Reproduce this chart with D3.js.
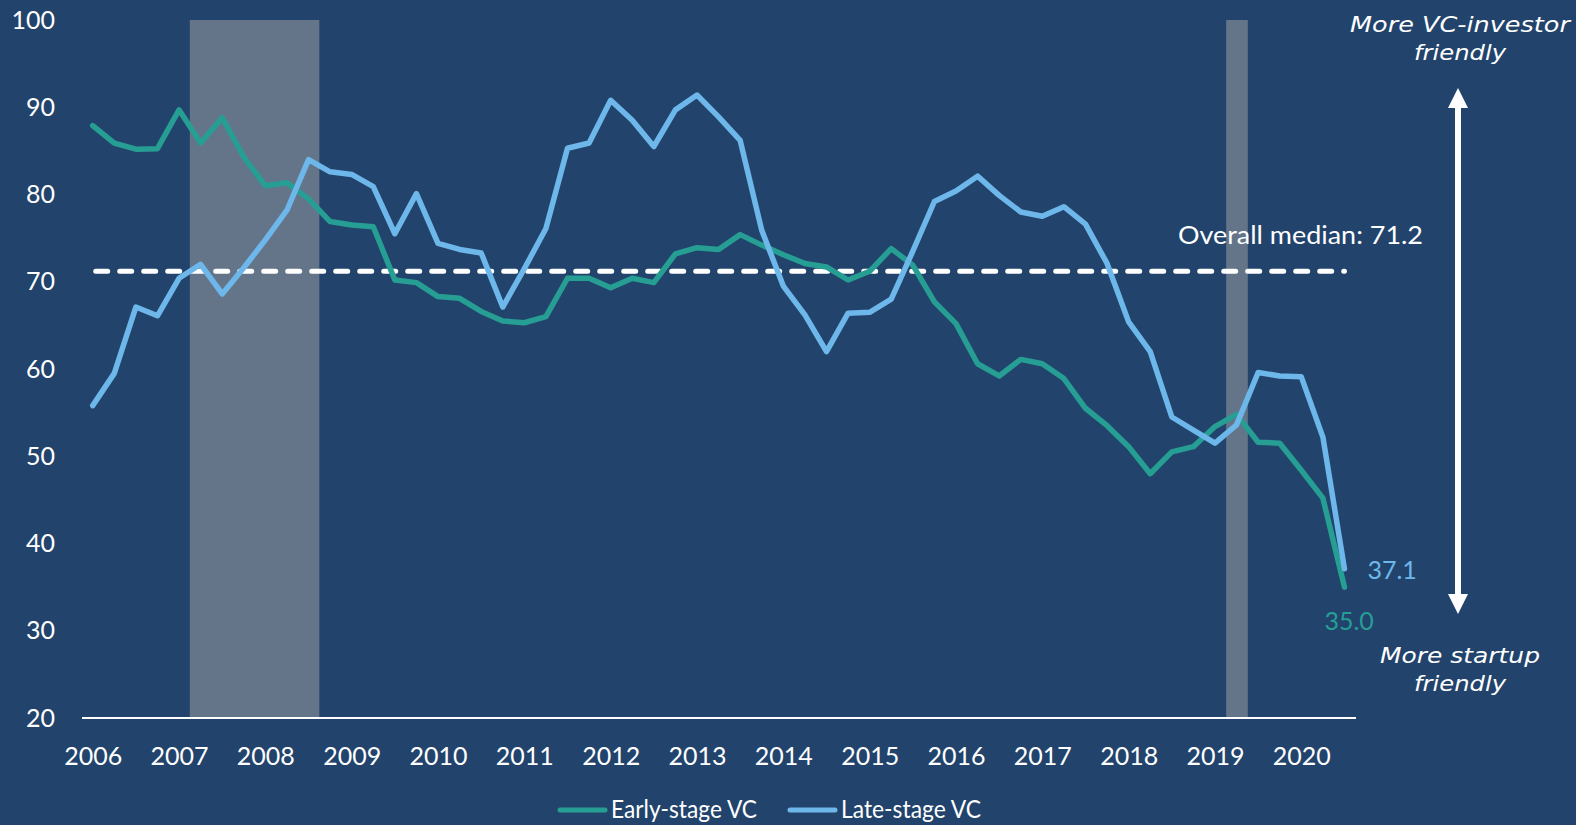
<!DOCTYPE html>
<html>
<head>
<meta charset="utf-8">
<script src="https://cdn.jsdelivr.net/npm/d3@7"></script>
<style>
  html, body { margin: 0; padding: 0; background: #22446C; }
  svg { display: block; }
</style>
</head>
<body>
<svg id="chart" width="1576" height="825"></svg>
<script>
// ---- Data (quarterly, 2006 Q1 .. 2020 Q3) ----
const startYear = 2006;
const early = [87.9, 85.9, 85.2, 85.25, 89.7, 85.9, 88.8, 84.3,
               81.0, 81.35, 79.5, 76.9, 76.5, 76.3, 70.2, 69.9,
               68.3, 68.1, 66.6, 65.5, 65.3, 66.0, 70.4, 70.4,
               69.3, 70.4, 69.9, 73.2, 73.9, 73.7, 75.4, 74.2,
               73.1, 72.1, 71.7, 70.2, 71.2, 73.8, 71.9, 67.7,
               65.2, 60.6, 59.2, 61.1, 60.6, 58.9, 55.5, 53.5,
               51.1, 48.0, 50.5, 51.1, 53.4, 54.8, 51.6, 51.5,
               48.4, 45.2, 35.0];
const late  = [55.8, 59.5, 67.1, 66.1, 70.4, 72.0, 68.6, 71.6,
               74.8, 78.2, 84.0, 82.6, 82.3, 80.9, 75.5, 80.1,
               74.4, 73.7, 73.3, 67.1, 71.5, 76.1, 85.3, 85.9,
               90.8, 88.5, 85.5, 89.7, 91.4, 88.9, 86.2, 75.9,
               69.5, 66.2, 62.0, 66.4, 66.5, 68.0, 73.5, 79.2,
               80.4, 82.1, 79.9, 78.0, 77.5, 78.6, 76.6, 72.1,
               65.4, 62.0, 54.5, 53.0, 51.5, 53.6, 59.6, 59.2,
               59.1, 52.2, 37.1];
const yearTicks = [2006, 2007, 2008, 2009, 2010, 2011, 2012, 2013,
                   2014, 2015, 2016, 2017, 2018, 2019, 2020];
const yTicks = [20, 30, 40, 50, 60, 70, 80, 90, 100];
const recessions = [[2007.125, 2008.625], [2019.13, 2019.38]];
const median = 71.2;
const seriesNames = ["Early-stage VC", "Late-stage VC"];

// ---- Styles ----
const BG = "#22446C";
const TEAL = "#269E94";
const BLUE = "#6DB7EA";
const BAND = "#64758A";
const FONT = "Lato, 'Open Sans', sans-serif";

const svg = d3.select("#chart");
svg.append("rect").attr("width", 1576).attr("height", 825).attr("fill", BG);

const x = d3.scaleLinear().domain([2006, 2020]).range([92.7, 1301.3]);
const y = d3.scaleLinear().domain([20, 100]).range([718, 20]);

// recession bands
svg.append("g").selectAll("rect").data(recessions).join("rect")
  .attr("x", d => x(d[0]))
  .attr("width", d => x(d[1]) - x(d[0]))
  .attr("y", y(100))
  .attr("height", y(20) - y(100))
  .attr("fill", BAND);

// y axis labels
const yAxis = d3.axisLeft(y).tickValues(yTicks).tickSize(0).tickPadding(0);
const gy = svg.append("g").attr("transform", "translate(55,0)").call(yAxis);
gy.select(".domain").remove();
gy.selectAll("text").attr("fill", "#ffffff").style("font-family", FONT)
  .style("font-size", "25px");

// x axis
const xAxis = d3.axisBottom(x).tickValues(yearTicks).tickFormat(d3.format("d"))
  .tickSize(0).tickPadding(29);
const gx = svg.append("g").attr("transform", `translate(0,${y(20)})`).call(xAxis);
gx.select(".domain").remove();
gx.selectAll("text").attr("fill", "#ffffff").style("font-family", FONT)
  .style("font-size", "25px");
svg.append("line")
  .attr("x1", 82).attr("x2", 1356).attr("y1", y(20)).attr("y2", y(20))
  .attr("stroke", "#ffffff").attr("stroke-width", 2);

// median line
svg.append("line")
  .attr("x1", x(2006) + 3).attr("x2", x(2020.5))
  .attr("y1", y(median)).attr("y2", y(median))
  .attr("stroke", "#ffffff").attr("stroke-width", 5)
  .attr("stroke-linecap", "round")
  .attr("stroke-dasharray", "12,12");
svg.append("text")
  .attr("x", 1423).attr("y", 244)
  .attr("text-anchor", "end")
  .attr("textLength", 245).attr("lengthAdjust", "spacingAndGlyphs")
  .attr("fill", "#ffffff").style("font-family", FONT).style("font-size", "25px")
  .text("Overall median: " + median.toFixed(1));

// series lines
const line = d3.line()
  .x((d, i) => x(startYear + i / 4))
  .y(d => y(d));
svg.append("path").datum(early)
  .attr("d", line).attr("fill", "none").attr("stroke", TEAL)
  .attr("stroke-width", 5.5).attr("stroke-linejoin", "round").attr("stroke-linecap", "round");
svg.append("path").datum(late)
  .attr("d", line).attr("fill", "none").attr("stroke", BLUE)
  .attr("stroke-width", 5.5).attr("stroke-linejoin", "round").attr("stroke-linecap", "round");

// end labels
const lastIdx = early.length - 1;
svg.append("text")
  .attr("x", x(startYear + lastIdx / 4) + 23).attr("y", 579)
  .attr("fill", BLUE).style("font-family", FONT).style("font-size", "25px")
  .text(late[lastIdx].toFixed(1));
svg.append("text")
  .attr("x", x(startYear + lastIdx / 4) - 20).attr("y", 630)
  .attr("fill", TEAL).style("font-family", FONT).style("font-size", "25px")
  .text(early[lastIdx].toFixed(1));

// double arrow
const ax = 1458;
svg.append("line").attr("x1", ax).attr("x2", ax).attr("y1", 104).attr("y2", 598)
  .attr("stroke", "#ffffff").attr("stroke-width", 6);
svg.append("path").attr("d", `M${ax},88 L${ax + 10},108 L${ax - 10},108 Z`).attr("fill", "#ffffff");
svg.append("path").attr("d", `M${ax},614 L${ax + 10},594 L${ax - 10},594 Z`).attr("fill", "#ffffff");

// annotations
const annFont = "'DejaVu Sans', sans-serif";
function ann(lines, widths, y0) {
  lines.forEach((t, i) => {
    svg.append("text").attr("x", 1460).attr("y", y0 + i * 28)
      .attr("text-anchor", "middle").attr("fill", "#ffffff")
      .attr("textLength", widths[i]).attr("lengthAdjust", "spacingAndGlyphs")
      .style("font-family", annFont).style("font-style", "italic").style("font-size", "22px")
      .text(t);
  });
}
ann(["More VC-investor", "friendly"], [220, 92], 32);
ann(["More startup", "friendly"], [160, 92], 663);

// legend
const legend = [
  {name: seriesNames[0], color: TEAL, x1: 558, w: 146},
  {name: seriesNames[1], color: BLUE, x1: 788, w: 140}
];
legend.forEach(l => {
  svg.append("line").attr("x1", l.x1 + 2).attr("x2", l.x1 + 47).attr("y1", 810).attr("y2", 810)
    .attr("stroke", l.color).attr("stroke-width", 5).attr("stroke-linecap", "round");
  svg.append("text").attr("x", l.x1 + 53).attr("y", 818)
    .attr("textLength", l.w).attr("lengthAdjust", "spacingAndGlyphs")
    .attr("fill", "#ffffff").style("font-family", FONT).style("font-size", "25px")
    .text(l.name);
});
</script>
</body>
</html>
